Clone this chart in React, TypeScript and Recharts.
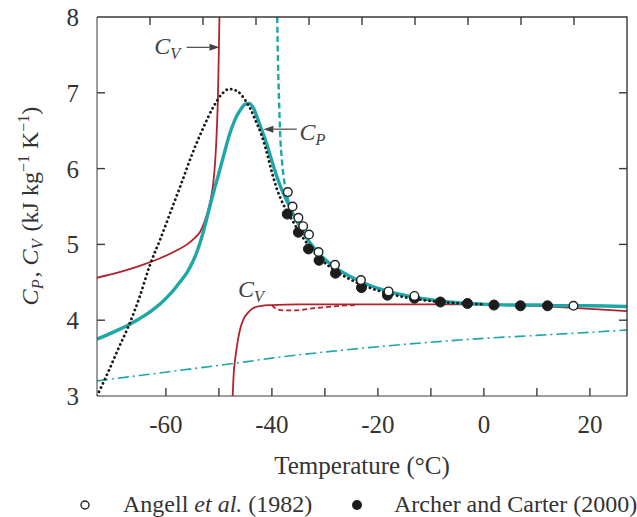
import {
  ComposedChart,
  Line,
  Scatter,
  XAxis,
  YAxis,
  ReferenceLine,
  ReferenceDot,
} from 'recharts';

// temperature (°C), heat capacity (kJ kg-1 K-1)
const cpSolid: [number, number][] = [
  [-73, 3.75], [-70, 3.84], [-67, 3.94], [-65, 4.02], [-63, 4.11], [-61, 4.22],
  [-59, 4.36], [-57.5, 4.49], [-56, 4.63], [-55, 4.76], [-54, 4.93], [-53, 5.15],
  [-52, 5.42], [-51, 5.69], [-50, 5.94], [-49, 6.2], [-48, 6.45], [-47, 6.64],
  [-46, 6.77], [-45, 6.85], [-44.3, 6.86], [-43.5, 6.8], [-42.5, 6.62], [-41, 6.33],
  [-40, 6.1], [-39, 5.88], [-38, 5.7], [-37, 5.55], [-36, 5.4], [-35, 5.27],
  [-34, 5.15], [-33, 5.04], [-31, 4.87], [-28, 4.69], [-25, 4.57], [-23, 4.5],
  [-20, 4.42], [-18, 4.38], [-15, 4.33], [-13, 4.3], [-10, 4.27], [-8, 4.25],
  [-5, 4.23], [-3, 4.22], [0, 4.21], [5, 4.2], [10, 4.2], [15, 4.19], [20, 4.19],
  [27, 4.18],
];
const cpDashed: [number, number][] = [
  [-39.0, 8.0], [-38.85, 7.4], [-38.65, 6.9], [-38.45, 6.47], [-38.1, 6.1],
  [-37.5, 5.76], [-37, 5.6], [-36, 5.42], [-35, 5.28], [-34, 5.16], [-33, 5.05],
];
const cpDotted: [number, number][] = [
  [-73, 3.0], [-71, 3.3], [-69, 3.62], [-67, 3.93], [-65, 4.3], [-63, 4.73],
  [-61, 5.08], [-59, 5.45], [-57, 5.82], [-55, 6.2], [-53, 6.53], [-51, 6.82],
  [-49.5, 6.98], [-48, 7.05], [-46.5, 7.02], [-45, 6.9], [-44, 6.78], [-43, 6.62],
  [-42, 6.45], [-41, 6.22], [-40, 5.95], [-39, 5.72], [-38, 5.55], [-37, 5.42],
  [-36, 5.3], [-35, 5.18], [-33, 4.98], [-31, 4.82], [-28, 4.65], [-25, 4.53],
  [-22, 4.44], [-18, 4.35], [-13, 4.28], [-8, 4.24], [-4, 4.22], [0, 4.21],
];
const cpIce: [number, number][] = [
  [-73, 3.2], [-65, 3.27], [-55, 3.36], [-45, 3.45], [-40, 3.5], [-30, 3.58],
  [-20, 3.65], [-10, 3.71], [0, 3.76], [10, 3.8], [20, 3.84], [27, 3.87],
];
const cvUpper: [number, number][] = [
  [-73, 4.56], [-70, 4.61], [-67, 4.67], [-64, 4.74], [-61, 4.82], [-58, 4.92],
  [-56, 5.0], [-54.5, 5.09], [-53.5, 5.17], [-52.7, 5.3], [-52, 5.46], [-51.4, 5.65],
  [-51, 5.85], [-50.7, 6.1], [-50.4, 6.5], [-50.2, 6.9], [-50.05, 7.4], [-49.9, 8.0],
];
const cvLower: [number, number][] = [
  [-47.4, 3.0], [-47.2, 3.3], [-46.9, 3.5], [-46.5, 3.7], [-46, 3.88], [-45.3, 4.02],
  [-44.5, 4.1], [-43.5, 4.16], [-42, 4.19], [-40, 4.2], [-35, 4.21], [-25, 4.21],
  [-15, 4.21], [-5, 4.21], [0, 4.21], [5, 4.2], [10, 4.19], [15, 4.17], [20, 4.15],
  [27, 4.12],
];
const cvDashed: [number, number][] = [
  [-40, 4.2], [-39.2, 4.15], [-38, 4.13], [-36, 4.13], [-34, 4.14], [-32, 4.16],
  [-30, 4.17], [-27, 4.19], [-24, 4.2],
];
const angell: [number, number][] = [
  [-37.0, 5.69], [-36.1, 5.5], [-35.0, 5.35], [-34.1, 5.24], [-33.0, 5.13],
  [-31.2, 4.9], [-28.1, 4.73], [-23.2, 4.53], [-18.0, 4.38], [-13.1, 4.32], [16.9, 4.19],
];
const archer: [number, number][] = [
  [-37.1, 5.4], [-35.0, 5.16], [-33.1, 4.94], [-31.1, 4.79], [-28.0, 4.62],
  [-23.1, 4.43], [-18.2, 4.33], [-13.1, 4.29], [-8.2, 4.24], [-3.1, 4.22],
  [1.9, 4.2], [6.9, 4.19], [12.0, 4.19],
];

const xTicks = [-60, -50, -40, -30, -20, -10, 0, 10, 20];
const xLabelled = [-60, -40, -20, 0, 20];
const xTopTicks = [-63, -53, -43, -33, -23, -13, -3, 7, 17];
const yTicks = [3, 4, 5, 6, 7, 8];
const yInnerTicks = [4, 5, 6, 7];
const X_DOMAIN: [number, number] = [-73, 27];
const Y_DOMAIN: [number, number] = [3, 8];

const pts = (a: [number, number][]) => a.map(([t, c]) => ({ t, c }));

// layout
const W = 637;
const H = 517;
const MARGIN = { top: 17, right: 10, bottom: 0, left: 0 };
const Y_AXIS_W = 97;
const X_AXIS_H = 121;
const PLOT = {
  left: MARGIN.left + Y_AXIS_W,
  right: W - MARGIN.right,
  top: MARGIN.top,
  bottom: H - MARGIN.bottom - X_AXIS_H,
};
// same linear mapping as the chart's axes, for the frame overlay
const fx = (v: number) =>
  PLOT.left + ((v - X_DOMAIN[0]) / (X_DOMAIN[1] - X_DOMAIN[0])) * (PLOT.right - PLOT.left);
const fy = (v: number) =>
  PLOT.bottom - ((v - Y_DOMAIN[0]) / (Y_DOMAIN[1] - Y_DOMAIN[0])) * (PLOT.bottom - PLOT.top);

const TEAL = '#1fa6a6';
const RED = '#b1222c';
const AXIS = '#3a3a3a';
const FONT = '"Liberation Serif", "Times New Roman", serif';
const TICK = 8;

function Sym({ main, sub, size = 24 }: { main: string; sub: string; size?: number }) {
  return (
    <>
      <tspan fontStyle="italic">{main}</tspan>
      <tspan fontStyle="italic" fontSize={size * 0.68} dy={size * 0.22}>{sub}</tspan>
      <tspan dy={-size * 0.22}>{'\u200a'}</tspan>
    </>
  );
}

const BottomLabel = (p: any) =>
  xLabelled.includes(p.payload.value) ? (
    <text x={p.x} y={p.y + 37} textAnchor="middle" fontFamily={FONT} fontSize={25} fill="#333">
      {p.payload.value}
    </text>
  ) : (
    <g />
  );
const LeftLabel = (p: any) => (
  <text x={p.x - 18} y={p.y + 9} textAnchor="end" fontFamily={FONT} fontSize={25} fill="#333">
    {p.payload.value}
  </text>
);

function Arrow(props: any) {
  const { x1, y1, x2, y2 } = props;
  const dir = x2 - x1 >= 0 ? 1 : -1;
  const len = 10;
  const w = 3.5;
  return (
    <g>
      <line x1={x1} y1={y1} x2={x2 - dir * len} y2={y2} stroke="#444" strokeWidth={1.2} />
      <polygon
        points={`${x2},${y2} ${x2 - dir * len},${y2 - w} ${x2 - dir * len},${y2 + w}`}
        fill="#444"
      />
    </g>
  );
}

function SymLabel(anchor: 'start' | 'end', sub: string) {
  return (p: any) => {
    const { x, y } = p.viewBox;
    return (
      <text x={x} y={y} textAnchor={anchor} fontFamily={FONT} fontSize={24} fill="#444">
        <Sym main="C" sub={sub} />
      </text>
    );
  };
}

function Frame() {
  return (
    <svg width={W} height={H} style={{ position: 'absolute', left: 0, top: 0, pointerEvents: 'none' }}>
      <g stroke={AXIS} strokeWidth={1.4} fill="none">
        <polyline points={`${PLOT.left},${PLOT.top} ${PLOT.right},${PLOT.top} ${PLOT.right},${PLOT.bottom}`} />
        {xTicks.map((v) => (
          <line key={`b${v}`} x1={fx(v)} y1={PLOT.bottom} x2={fx(v)} y2={PLOT.bottom - TICK} />
        ))}
        {xTopTicks.map((v) => (
          <line key={`t${v}`} x1={fx(v)} y1={PLOT.top} x2={fx(v)} y2={PLOT.top + TICK} />
        ))}
        {yInnerTicks.map((v) => (
          <g key={`y${v}`}>
            <line x1={PLOT.left} y1={fy(v)} x2={PLOT.left + TICK} y2={fy(v)} />
            <line x1={PLOT.right} y1={fy(v)} x2={PLOT.right - TICK} y2={fy(v)} />
          </g>
        ))}
      </g>
    </svg>
  );
}

export default function App() {
  return (
    <div style={{ position: 'absolute', left: 0, top: 0, width: W, height: H, background: '#fff', fontFamily: FONT }}>
      <ComposedChart width={W} height={H} margin={MARGIN}>
        <XAxis
          dataKey="t"
          type="number"
          domain={X_DOMAIN}
          allowDataOverflow
          ticks={xTicks}
          interval={0}
          tickLine={false}
          tickSize={0}
          tickMargin={0}
          height={X_AXIS_H}
          stroke={AXIS}
          tick={BottomLabel}
          label={{
            content: (p: any) => {
              const vb = p.viewBox;
              return (
                <text x={vb.x + vb.width / 2} y={vb.y + 78} textAnchor="middle" fontFamily={FONT} fontSize={25} fill="#333">
                  Temperature (°C)
                </text>
              );
            },
          }}
        />
        <YAxis
          type="number"
          domain={Y_DOMAIN}
          allowDataOverflow
          ticks={yTicks}
          interval={0}
          tickLine={false}
          tickSize={0}
          tickMargin={0}
          width={Y_AXIS_W}
          stroke={AXIS}
          tick={LeftLabel}
          label={{
            content: () => (
              <text
                transform="translate(38,206) rotate(-90)"
                textAnchor="middle"
                fontFamily={FONT}
                fontSize={24}
                fill="#333"
              >
                <Sym main="C" sub="P" />
                <tspan>{', '}</tspan>
                <Sym main="C" sub="V" />
                <tspan>{' (kJ kg'}</tspan>
                <tspan fontSize={16} dy={-9}>−1</tspan>
                <tspan dy={9}>{' K'}</tspan>
                <tspan fontSize={16} dy={-9}>−1</tspan>
                <tspan dy={9}>)</tspan>
              </text>
            ),
          }}
        />

        <Line data={pts(cpIce)} dataKey="c" type="monotone" stroke={TEAL} strokeWidth={1.6}
          strokeDasharray="11 4 2 4" dot={false} isAnimationActive={false} />
        <Line data={pts(cvUpper)} dataKey="c" type="monotone" stroke={RED} strokeWidth={1.8}
          dot={false} isAnimationActive={false} />
        <Line data={pts(cvLower)} dataKey="c" type="monotone" stroke={RED} strokeWidth={1.8}
          dot={false} isAnimationActive={false} />
        <Line data={pts(cvDashed)} dataKey="c" type="monotone" stroke={RED} strokeWidth={1.8}
          strokeDasharray="5 3" dot={false} isAnimationActive={false} />
        <Line data={pts(cpSolid)} dataKey="c" type="monotone" stroke={TEAL} strokeWidth={3.4}
          dot={false} isAnimationActive={false} />
        <Line data={pts(cpDotted)} dataKey="c" type="monotone" stroke="#1a1a1a" strokeWidth={2.8}
          strokeDasharray="0.1 4.6" strokeLinecap="round" dot={false} isAnimationActive={false} />
        <Line data={pts(cpDashed)} dataKey="c" type="monotone" stroke={TEAL} strokeWidth={2.4}
          strokeDasharray="6 3.5" dot={false} isAnimationActive={false} />

        <Scatter data={pts(archer)} dataKey="c" isAnimationActive={false}
          shape={(p: any) => <circle cx={p.cx} cy={p.cy} r={5} fill="#1c1c1c" stroke="#1c1c1c" />} />
        <Scatter data={pts(angell)} dataKey="c" isAnimationActive={false}
          shape={(p: any) => <circle cx={p.cx} cy={p.cy} r={4.3} fill="#fff" stroke="#222" strokeWidth={1.4} />} />

        <ReferenceLine segment={[{ x: -56.1, y: 7.6 }, { x: -49.9, y: 7.6 }]} shape={Arrow} />
        <ReferenceLine segment={[{ x: -35.3, y: 6.52 }, { x: -41.6, y: 6.52 }]} shape={Arrow} />
        <ReferenceDot x={-56.9} y={7.51} r={0} shape={() => <g />} label={{ content: SymLabel('end', 'V') }} />
        <ReferenceDot x={-34.8} y={6.38} r={0} shape={() => <g />} label={{ content: SymLabel('start', 'P') }} />
        <ReferenceDot x={-46.4} y={4.31} r={0} shape={() => <g />} label={{ content: SymLabel('start', 'V') }} />
      </ComposedChart>

      <Frame />

      <svg width={W} height={40} style={{ position: 'absolute', left: 0, top: 485 }}>
        <circle cx={85} cy={20} r={4} fill="#fff" stroke="#222" strokeWidth={1.4} />
        <text x={123} y={27} fontFamily={FONT} fontSize={24} fill="#333">
          Angell <tspan fontStyle="italic">et al.</tspan> (1982)
        </text>
        <circle cx={357} cy={20} r={5} fill="#1c1c1c" />
        <text x={394} y={27} fontFamily={FONT} fontSize={24} fill="#333">
          Archer and Carter (2000)
        </text>
      </svg>
    </div>
  );
}
